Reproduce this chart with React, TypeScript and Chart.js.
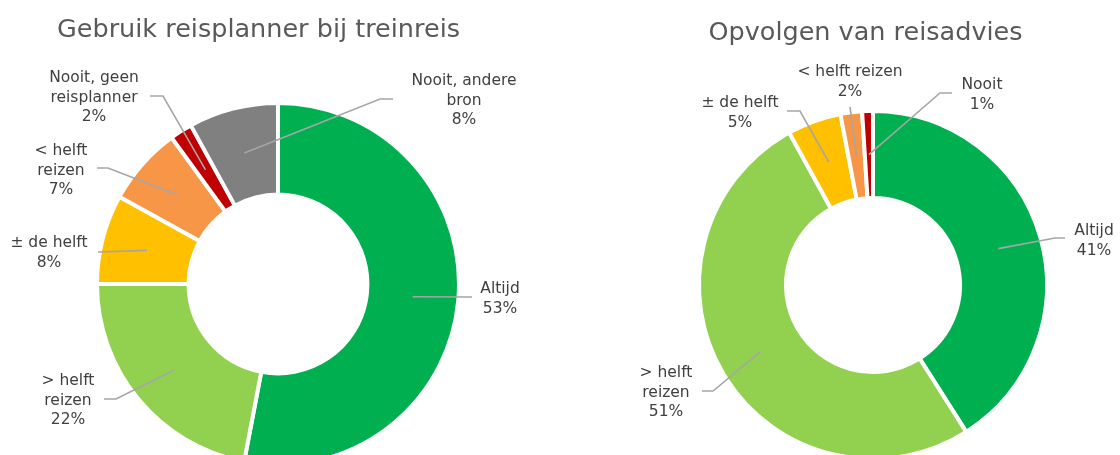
import React, { useEffect, useRef } from "react";
import { Chart, registerables } from "chart.js";

Chart.register(...registerables);

// ---------- data ----------
const leftTitle = "Gebruik reisplanner bij treinreis";
const leftCategories: string[][] = [
  ["Altijd"],
  ["> helft", "reizen"],
  ["± de helft"],
  ["< helft", "reizen"],
  ["Nooit, geen", "reisplanner"],
  ["Nooit, andere", "bron"],
];
const leftValues = [53, 22, 8, 7, 2, 8];
const leftColors = ["#00B050", "#92D050", "#FFC000", "#F79646", "#C00000", "#808080"];

const rightTitle = "Opvolgen van reisadvies";
const rightCategories: string[][] = [
  ["Altijd"],
  ["> helft", "reizen"],
  ["± de helft"],
  ["< helft reizen"],
  ["Nooit"],
];
const rightValues = [41, 51, 5, 2, 1];
const rightColors = ["#00B050", "#92D050", "#FFC000", "#F79646", "#C00000"];

// ---------- label layout (offsets relative to the doughnut centre) ----------
type LabelPos = { text: [number, number]; elbow: [number, number] | null; end: [number, number] };
const leftLabelPos: LabelPos[] = [
  { text: [222, 5], elbow: null, end: [194, 13] },
  { text: [-210, 97], elbow: [-162, 115], end: [-174, 115] },
  { text: [-229, -41], elbow: null, end: [-180, -32] },
  { text: [-217, -133], elbow: [-170, -116], end: [-181, -116] },
  { text: [-184, -206], elbow: [-115, -188], end: [-128, -188] },
  { text: [186, -203], elbow: [102, -185], end: [115, -185] },
];
const rightLabelPos: LabelPos[] = [
  { text: [221, -54], elbow: [182, -47], end: [192, -47] },
  { text: [-207, 88], elbow: [-160, 106], end: [-171, 106] },
  { text: [-133, -182], elbow: [-73, -174], end: [-86, -174] },
  { text: [-23, -213], elbow: null, end: [-23, -178] },
  { text: [109, -200], elbow: [67, -192], end: [79, -192] },
];

const FONT = "'DejaVu Sans', Verdana, sans-serif";

function makeLabelPlugin(title: string, titleOffset: [number, number], cats: string[][], pos: LabelPos[]) {
  return {
    id: "calloutLabels",
    afterDraw(chart: any) {
      const ctx = chart.ctx as CanvasRenderingContext2D;
      const meta = chart.getDatasetMeta(0);
      const values = chart.data.datasets[0].data as number[];
      ctx.save();
      meta.data.forEach((arc: any, i: number) => {
        const cx = arc.x;
        const cy = arc.y;
        const p = arc.tooltipPosition();
        const lp = pos[i];
        ctx.strokeStyle = "#A6A6A6";
        ctx.lineWidth = 1.6;
        ctx.beginPath();
        ctx.moveTo(p.x, p.y);
        if (lp.elbow) ctx.lineTo(cx + lp.elbow[0], cy + lp.elbow[1]);
        ctx.lineTo(cx + lp.end[0], cy + lp.end[1]);
        ctx.stroke();

        const lines = [...cats[i], values[i] + "%"];
        ctx.fillStyle = "#404040";
        ctx.font = `15.5px ${FONT}`;
        ctx.textAlign = "center";
        ctx.textBaseline = "middle";
        lines.forEach((t, k) => {
          ctx.fillText(t, cx + lp.text[0], cy + lp.text[1] + k * 19.5);
        });
      });
      const a0 = meta.data[0];
      if (a0) {
        ctx.fillStyle = "#595959";
        ctx.font = `25.5px ${FONT}`;
        ctx.textAlign = "center";
        ctx.textBaseline = "alphabetic";
        ctx.fillText(title, a0.x + titleOffset[0], a0.y + titleOffset[1]);
      }
      ctx.restore();
    },
  };
}

function Doughnut(props: {
  left: number;
  width: number;
  height: number;
  values: number[];
  colors: string[];
  cats: string[][];
  pos: LabelPos[];
  title: string;
  titleOffset: [number, number];
  radius: number;
  cutout: string;
}) {
  const ref = useRef<HTMLCanvasElement | null>(null);
  useEffect(() => {
    if (!ref.current) return;
    const chart = new Chart(ref.current, {
      type: "doughnut",
      data: {
        labels: props.cats.map((c) => c.join(" ")),
        datasets: [
          {
            data: props.values,
            backgroundColor: props.colors,
            borderColor: "#FFFFFF",
            borderWidth: 4,
            radius: props.radius,
            cutout: props.cutout,
          } as any,
        ],
      },
      options: {
        responsive: false,
        animation: false,
        devicePixelRatio: 1,
        layout: { padding: 0 },
        plugins: {
          legend: { display: false },
          tooltip: { enabled: false },
          title: { display: false },
        },
      },
      plugins: [makeLabelPlugin(props.title, props.titleOffset, props.cats, props.pos)],
    });
    return () => chart.destroy();
  }, []);
  return (
    <canvas
      ref={ref}
      width={props.width}
      height={props.height}
      style={{ position: "absolute", left: props.left, top: 0, width: props.width, height: props.height }}
    />
  );
}

export default function App() {
  useEffect(() => {
    document.body.style.margin = "0";
  }, []);
  return (
    <div style={{ position: "relative", width: 1120, height: 455, overflow: "hidden", background: "#FFFFFF" }}>
      <Doughnut
        left={0}
        width={556}
        height={568}
        values={leftValues}
        colors={leftColors}
        cats={leftCategories}
        pos={leftLabelPos}
        title={leftTitle}
        titleOffset={[-19.5, -247]}
        radius={181}
        cutout="49.4%"
      />
      <Doughnut
        left={626}
        width={494}
        height={570}
        values={rightValues}
        colors={rightColors}
        cats={rightCategories}
        pos={rightLabelPos}
        title={rightTitle}
        titleOffset={[-7.5, -245]}
        radius={174}
        cutout="50%"
      />
    </div>
  );
}
